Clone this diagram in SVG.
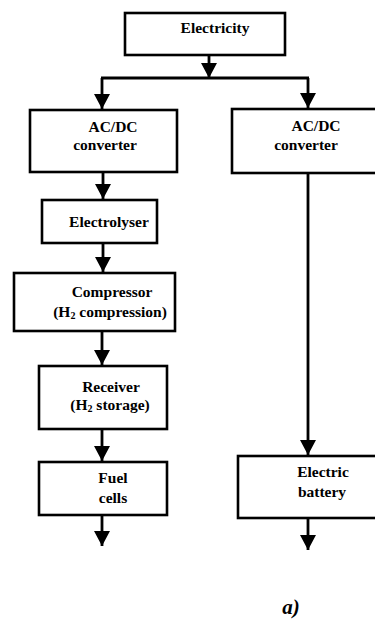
<svg xmlns="http://www.w3.org/2000/svg" width="375" height="621" viewBox="0 0 375 621">
<style>
.box{fill:#fff;stroke:#000;stroke-width:2.6}
.t{font-family:"Liberation Serif","Times New Roman",serif;font-weight:bold;font-size:15.5px;fill:#000;text-anchor:middle}
.ln{fill:none;stroke:#000;stroke-width:2.8}
</style>
<defs>
<marker id="ah" markerUnits="userSpaceOnUse" markerWidth="16" markerHeight="17" refX="15" refY="8" orient="auto">
<path d="M0,0 L15,8 L0,16 Z" fill="#000"/>
</marker>
</defs>
<rect width="375" height="621" fill="#fff"/>
<g id="connectors">
<line class="ln" x1="209" y1="55" x2="209" y2="78" marker-end="url(#ah)"/>
<line class="ln" x1="101" y1="78" x2="309" y2="78"/>
<line class="ln" x1="102" y1="78" x2="102" y2="109" marker-end="url(#ah)"/>
<line class="ln" x1="308" y1="78" x2="308" y2="108" marker-end="url(#ah)"/>
<line class="ln" x1="103" y1="172" x2="103" y2="199" marker-end="url(#ah)"/>
<line class="ln" x1="103" y1="243" x2="103" y2="272" marker-end="url(#ah)"/>
<line class="ln" x1="102" y1="331" x2="102" y2="365" marker-end="url(#ah)"/>
<line class="ln" x1="102" y1="429" x2="102" y2="461" marker-end="url(#ah)"/>
<line class="ln" x1="102" y1="515" x2="102" y2="546" marker-end="url(#ah)"/>
<line class="ln" x1="308" y1="173" x2="308" y2="455" marker-end="url(#ah)"/>
<line class="ln" x1="308" y1="518" x2="308" y2="550" marker-end="url(#ah)"/>
</g>
<g id="electricity">
<rect class="box" x="125" y="13" width="160" height="42"/>
<text class="t" x="215" y="33">Electricity</text>
</g>
<g id="acdc-left">
<rect class="box" x="30" y="110" width="147" height="62"/>
<text class="t" x="113" y="132">AC/DC</text>
<text class="t" x="105" y="150">converter</text>
</g>
<g id="electrolyser">
<rect class="box" x="42" y="200" width="115" height="43"/>
<text class="t" x="109" y="227">Electrolyser</text>
</g>
<g id="compressor">
<rect class="box" x="14" y="273" width="161" height="58"/>
<text class="t" x="112" y="297">Compressor</text>
<text class="t" x="110" y="317">(H<tspan font-size="10" dy="2">2</tspan><tspan dy="-2"> compression)</tspan></text>
</g>
<g id="receiver">
<rect class="box" x="39" y="366" width="128" height="63"/>
<text class="t" x="111" y="392">Receiver</text>
<text class="t" x="110" y="410">(H<tspan font-size="10" dy="2">2</tspan><tspan dy="-2"> storage)</tspan></text>
</g>
<g id="fuel-cells">
<rect class="box" x="39" y="462" width="128" height="53"/>
<text class="t" x="113" y="483">Fuel</text>
<text class="t" x="113" y="503">cells</text>
</g>
<g id="acdc-right">
<rect class="box" x="232" y="109" width="150" height="64"/>
<text class="t" x="316" y="131">AC/DC</text>
<text class="t" x="306" y="150">converter</text>
</g>
<g id="battery">
<rect class="box" x="238" y="456" width="144" height="62"/>
<text class="t" x="323" y="477">Electric</text>
<text class="t" x="322" y="497">battery</text>
</g>
<text x="291" y="614" font-family="Liberation Serif,'Times New Roman',serif" font-weight="bold" font-style="italic" font-size="21" text-anchor="middle">a)</text>
</svg>
